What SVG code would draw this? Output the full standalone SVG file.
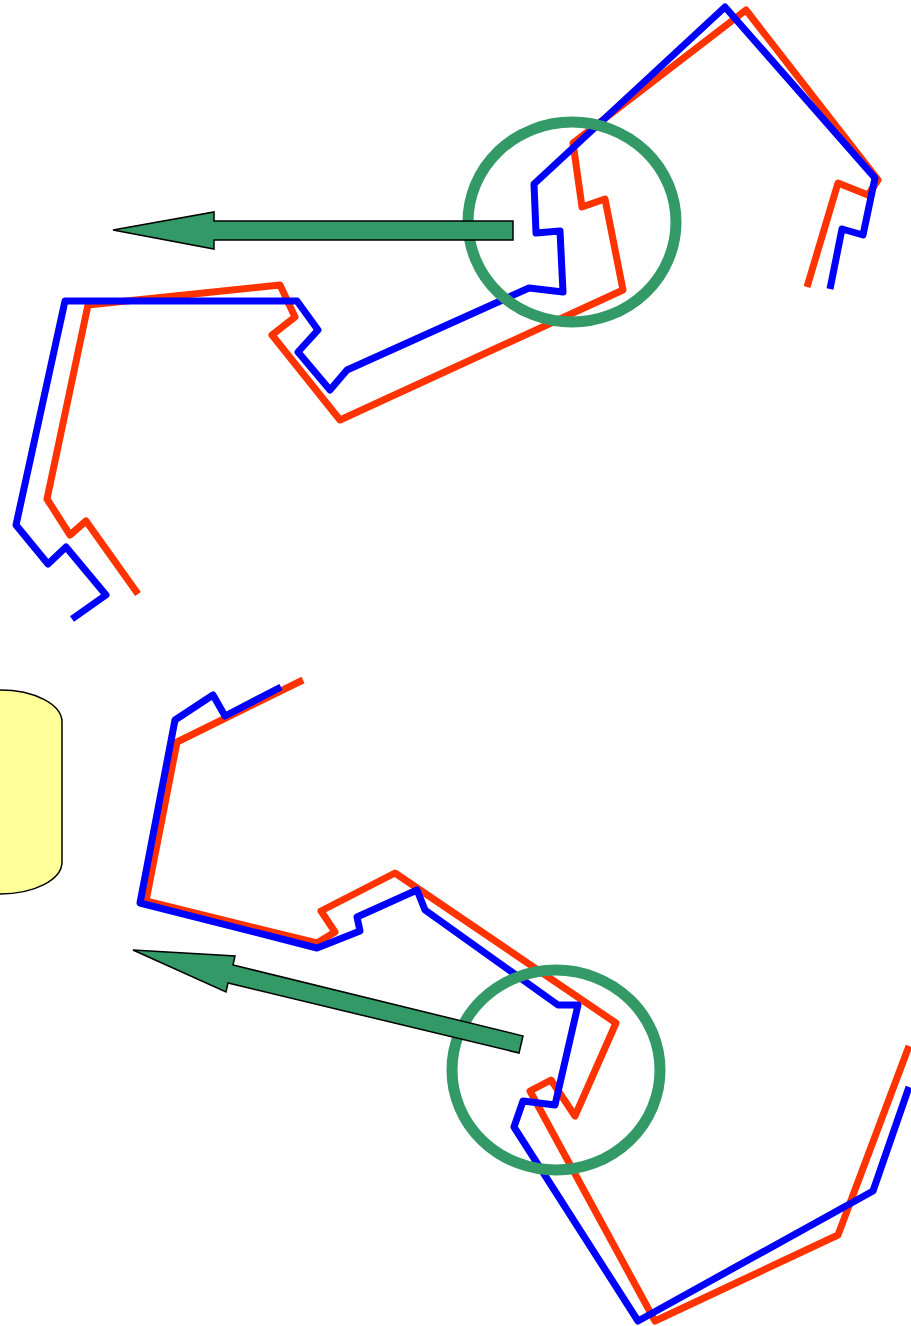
<svg xmlns="http://www.w3.org/2000/svg" width="911" height="1326" viewBox="0 0 911 1326">
<style>
.red{fill:none;stroke:#ff3300;stroke-width:7;stroke-linejoin:round;stroke-linecap:butt}
.blue{fill:none;stroke:#0000ff;stroke-width:7;stroke-linejoin:round;stroke-linecap:butt}
.ring{fill:none;stroke:#339966;stroke-width:11}
.arrow{fill:#339966;stroke:#000;stroke-width:1.5;stroke-linejoin:miter}
.cyl{fill:#ffff99;stroke:#000;stroke-width:1.5}
</style>
<rect width="911" height="1326" fill="#fff"/>
<g id="cylinder">
<path class="cyl" d="M-62,722 A62,32 0 0 1 62,722 L62,862 A62,32 0 0 1 -62,862 Z"/>
</g>
<g id="lines">
<polyline class="red" points="807,287 838,183 868,195 878,180 746,10 573,143 582,207 605,199 623,290 340,420 272,335 295,317 280,285 88,305 47,499 70,535 86,521 138,594"/>
<polyline class="blue" points="830,289 842,229 863,235 875,178 725,7 534,184 536,233 560,231 563,292 529,288 347,370 330,390 298,352 318,330 297,301 65,301 16,525 48,564 66,547 106,595 72,619"/>
<polyline class="red" points="303,680 177,742 146,901 317,943 335,932 321,911 395,873 616,1023 575,1116 551,1080 530,1091 655,1321 838,1235 909,1046"/>
<polyline class="blue" points="281,687 225,716 213,695 175,720 140,903 317,948 360,931 357,917 417,890 425,910 558,1005 578,1005 555,1105 523,1101 514,1127 638,1321 873,1191 909,1087"/>
</g>
<g id="circles">
<ellipse class="ring" cx="572" cy="222" rx="104" ry="100"/>
<ellipse class="ring" cx="556" cy="1070" rx="104" ry="100"/>
</g>
<g id="arrows">
<polygon class="arrow" points="513,221 214,221 214,212 113,230 214,249 214,240 513,240"/>
<polygon class="arrow" points="133,950 235,956 233,965 523,1036 519,1053 228,983 226,992"/>
</g>
</svg>
